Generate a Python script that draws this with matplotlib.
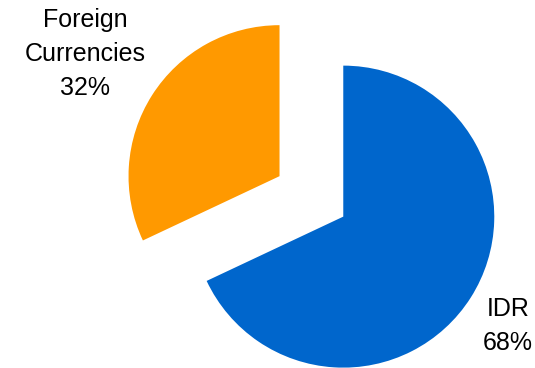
import matplotlib
matplotlib.use("Agg")
import matplotlib.pyplot as plt

# currency composition
labels = ["IDR", "Foreign\nCurrencies"]
shares = [68, 32]
colors = ["#0066CC", "#FF9900"]

plt.rcParams["font.family"] = ["Liberation Sans", "DejaVu Sans"]

W, H = 535, 368
fig = plt.figure(figsize=(W / 100, H / 100), dpi=100)
ax = fig.add_axes([0, 0, 1, 1])

# axes in pixel units; explode is absolute in matplotlib, so scale by radius
R = 151
ax.pie(shares, colors=colors, explode=[0.25 * R, 0.25 * R], startangle=90,
       counterclock=False, radius=R, center=(311.4, H - 196.4),
       wedgeprops=dict(linewidth=0))

ax.set_xlim(0, W)
ax.set_ylim(0, H)
ax.set_aspect("equal")
ax.axis("off")

label_pos = [(508, H - 326), (85, H - 54)]
for lab, val, (x, y) in zip(labels, shares, label_pos):
    ax.text(x, y, f"{lab}\n{val}%", ha="center", va="center",
            fontsize=18, color="#000000", linespacing=1.55)

fig.savefig("out.png", dpi=100)
